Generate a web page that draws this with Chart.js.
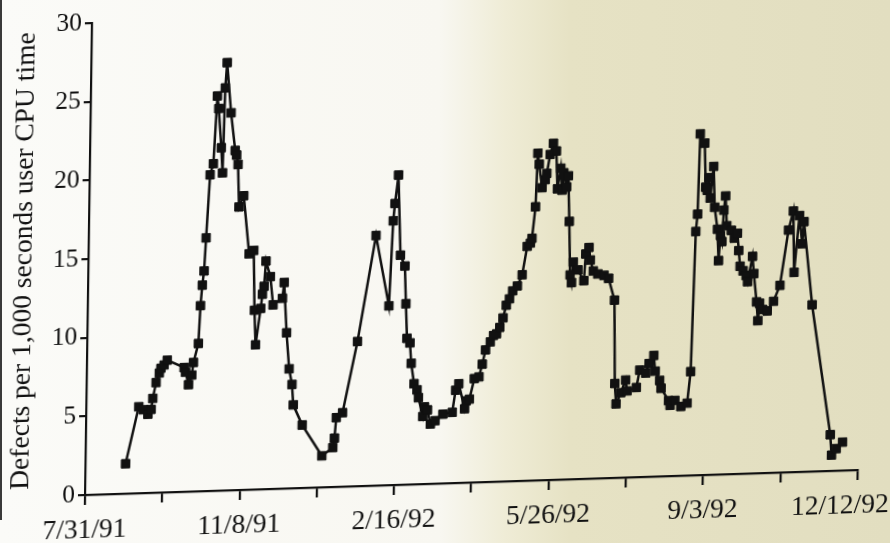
<!DOCTYPE html>
<html><head><meta charset="utf-8">
<script src="https://cdn.jsdelivr.net/npm/chart.js@4.4.1/dist/chart.umd.min.js"></script>
<style>
html,body{margin:0;padding:0;width:890px;height:543px;overflow:hidden;}
body{background:linear-gradient(90deg,#fbfbf8 0px,#f8f7f1 440px,#efecd6 505px,#e6e2c4 570px,#e2dec0 890px);}
#edge{position:absolute;left:0;top:0;width:2px;height:520px;background:#3a3a3a;}
#wrap{position:absolute;left:0;top:0;width:890px;height:543px;transform-origin:85px 495px;transform:matrix(1,-0.0323,-0.0147,1,0,0);}
</style></head><body>
<div id="edge"></div>
<div id="wrap"><canvas id="c" width="890" height="543"></canvas></div>
<script>
// days since 7/31/91
const days = [
  26,34,37,40,42,43,45,47,48,50,
  52,63,64,66,68,69,72,73,74,75,
  76,78,80,82,83,85,86,87,88,91,
  94,95,96,97,100,104,107,108,109,112,
  113,114,115,118,120,126,127,129,131,133,
  134,140,153,160,161,162,166,175,186,195,
  197,198,200,202,205,206,207,209,210,212,
  214,215,218,219,221,223,226,231,237,239,
  241,245,246,248,251,254,256,258,261,263,
  265,267,269,271,273,275,278,281,284,286,
  287,289,290,291,293,295,296,298,300,302,
  303,305,306,307,309,310,311,312,313,314,
  317,321,322,324,325,327,330,334,337,341,
  342,343,346,349,350,356,358,362,364,367,
  368,371,372,377,378,381,385,389,391,393,
  394,395,398,399,400,401,402,404,405,407,
  408,409,410,411,412,413,416,418,420,421,
  422,424,426,427,430,431,433,434,435,437,
  440,444,448,453,456,457,460,462,463,469,
  482,483,486,490
];
// defects per 1,000 seconds user CPU time
const defects = [
  1.9,5.5,5.3,5.0,5.3,6.0,7.0,7.6,7.9,8.1,
  8.4,7.9,7.6,6.8,7.4,8.2,9.4,11.8,13.1,14.0,
  16.1,20.1,20.8,25.1,24.3,21.8,20.2,25.6,27.2,24.0,
  21.6,21.3,20.7,18.0,18.7,15.0,15.2,11.4,9.2,11.5,
  12.4,12.9,14.5,13.5,11.7,12.1,13.1,9.9,7.6,6.6,
  5.3,4.0,2.0,2.5,3.1,4.4,4.7,9.2,15.9,11.4,
  16.8,17.9,19.7,14.6,13.9,11.5,9.3,9.0,7.7,6.4,
  6.0,5.5,4.3,4.9,4.7,3.8,4.0,4.4,4.5,5.9,
  6.3,4.7,5.2,5.3,6.6,6.7,7.5,8.4,8.9,9.3,
  9.4,9.8,10.4,11.2,11.6,12.1,12.4,13.1,14.9,15.1,
  15.4,17.4,20.8,20.1,18.6,19.1,19.5,20.7,21.4,20.9,
  18.5,19.8,18.4,19.5,18.6,19.3,16.4,13.0,12.5,13.8,
  13.3,12.6,14.3,14.7,13.9,13.2,13.0,12.9,12.7,11.3,
  6.0,4.7,5.4,6.2,5.5,5.7,6.8,6.6,7.2,7.7,
  6.7,6.1,5.6,4.8,4.5,4.8,4.4,4.6,6.6,15.5,
  16.6,21.7,21.1,18.3,18.1,18.9,17.6,19.6,17.0,15.6,
  13.6,15.2,14.8,16.8,17.7,15.8,15.5,15.0,15.3,14.2,
  13.2,12.9,12.6,12.2,13.8,12.7,10.9,9.7,10.8,10.4,
  10.3,10.9,11.9,15.4,16.6,12.7,16.3,14.5,15.9,10.6,
  2.3,1.0,1.4,1.8
];
const dateLabels = ['7/31/91','11/8/91','2/16/92','5/26/92','9/3/92','12/12/92'];
const yTitle = 'Defects per 1,000 seconds user CPU time';

const ink = '#111111';
const fontFam = '"Liberation Serif", serif';
const points = days.map((d, i) => ({ x: d, y: defects[i] }));

new Chart(document.getElementById('c'), {
  type: 'scatter',
  data: { datasets: [{
    data: points,
    showLine: true,
    borderColor: ink,
    borderWidth: 2.5,
    backgroundColor: ink,
    pointStyle: 'rect',
    pointRadius: 6,
    pointBorderWidth: 1,
    pointBorderColor: ink,
    pointBackgroundColor: ink,
    tension: 0
  }]},
  options: {
    responsive: false,
    animation: false,
    layout: { padding: { top: 23, right: 32, bottom: 0, left: 0 } },
    plugins: { legend: { display: false }, tooltip: { enabled: false } },
    scales: {
      x: {
        type: 'linear', min: 0, max: 500,
        afterFit: s => { s.height = 48; s.paddingLeft = 0; s.paddingRight = 0; },
        border: { display: true, color: ink, width: 2.2 },
        grid: { drawOnChartArea: false, drawTicks: true, tickLength: 10, color: ink, lineWidth: 2.2 },
        ticks: {
          stepSize: 50, autoSkip: false, maxRotation: 0, minRotation: 0, padding: 9,
          color: ink, font: { family: fontFam, size: 27.5 },
          callback: v => {
            if (v % 100 !== 0) return '';
            const i = v / 100;
            return i === dateLabels.length - 1 ? dateLabels[i] + '\u00a0'.repeat(5) : dateLabels[i];
          }
        }
      },
      y: {
        min: 0, max: 30,
        afterFit: s => { s.width = 85; s.paddingTop = 0; s.paddingBottom = 0; },
        border: { display: true, color: ink, width: 2.2 },
        grid: { drawOnChartArea: false, drawTicks: true, tickLength: 7, color: ink, lineWidth: 2.2 },
        ticks: { stepSize: 5, padding: 3, color: ink, font: { family: fontFam, size: 25.5 } },
        title: { display: true, text: yTitle, color: ink, font: { family: fontFam, size: 27.5 }, padding: { top: 4, bottom: 0 } }
      }
    }
  }
});
</script>
</body></html>
